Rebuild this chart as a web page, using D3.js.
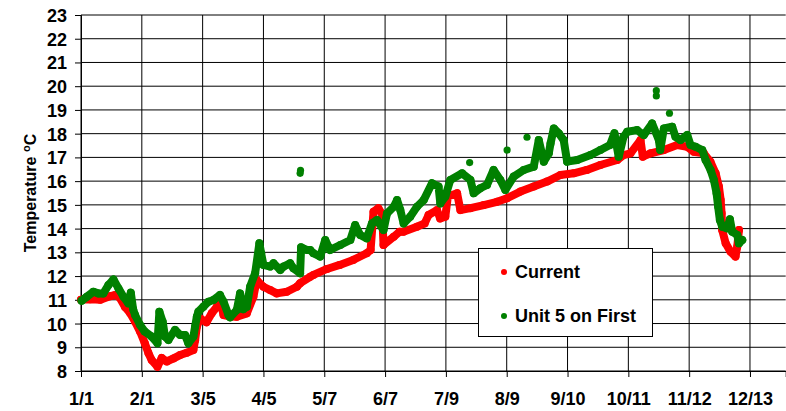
<!DOCTYPE html>
<html>
<head>
<meta charset="utf-8">
<script src="https://cdn.jsdelivr.net/npm/d3@7"></script>
<style>
html,body{margin:0;padding:0;background:#fff;}
svg{display:block;}
text{font-family:"Liberation Sans",Arial,sans-serif;font-weight:bold;fill:#000;}
</style>
</head>
<body>
<svg id="chart" width="786" height="411"></svg>
<script>
// ---- data (day of year, temperature °C) ----
const xTickLabels = ["1/1","2/1","3/5","4/5","5/7","6/7","7/9","8/9","9/10","10/11","11/12","12/13"];
const xTickStep = 31.5;
const yTicks = [8,9,10,11,12,13,14,15,16,17,18,19,20,21,22,23];
const seriesNames = ["Current","Unit 5 on First"];
const seriesColors = ["#ff0000","#008000"];

const currentDays  = [0,4.7,10,15,17.6,20,22.8,25.4,28,30.6,33,34.9,36.6,39.6,41.8,44.4,47.9,51.3,54.8,58.2,59.1,60,61.7,65,67.7,70.3,72,73.8,77,80.7,85.9,89.3,91,94.5,98,101.4,106.6,111.8,113.5,118.7,120.4,127.4,134,141,148,150,151.5,154,156,156.7,162,165,167,174,178,180,184.4,186,188.7,190,194.8,196.5,201.7,208.6,215.5,220.7,227.6,234.5,241.4,248.3,255.2,262,269,277.7,281,284.6,289.8,291,295,301.9,308.8,314,317.4,322.6,326,328.7,330.4,331.3,331.8,332.1,333.9,336.4,339,339.9,340.8];
const currentTemps = [11.0,11.02,11.0,11.15,11.2,11.1,10.7,10.44,10.08,9.66,9.18,8.76,8.46,8.18,8.55,8.4,8.53,8.67,8.77,8.88,9.3,9.87,10.22,10.05,10.43,10.7,11.06,10.36,10.3,10.29,10.43,11.13,11.83,11.55,11.41,11.27,11.34,11.55,11.7,11.97,12.05,12.3,12.47,12.68,12.96,13.1,14.71,14.86,14.6,13.31,13.66,13.87,13.87,14.08,14.22,14.57,14.78,14.43,14.5,15.35,15.49,14.78,14.86,14.99,15.13,15.28,15.56,15.77,15.98,16.26,16.33,16.47,16.68,16.89,17.1,17.17,17.73,17.03,17.17,17.31,17.52,17.45,17.24,17.17,16.82,16.33,15.77,15.21,14.65,13.94,13.38,13.03,12.82,13.24,13.94];

const unitDays  = [0.3,3,6.4,9,11.6,14.2,16.8,19.4,22,24.5,25.8,27,28,30.6,33,36.6,39.6,40.6,42.3,43.5,45.3,48.7,51.3,53.9,55.6,58.2,59.1,60,60.8,63.4,66,68.6,72,73.8,76.4,77.2,80.7,82.4,84,85.9,87.6,90.2,92.4,93.3,94.5,98,99.7,103.2,104.9,108.3,110,113.5,114,117,118.7,120.4,123.9,126.5,129,134.3,139.5,142,144.6,148,150.7,153.3,156.7,158.5,162,163.7,165.4,167.1,170.5,174,177.5,181.8,185.2,186.1,188.7,191.3,197.4,201.7,203.4,206.8,210.3,213.7,217.2,219.8,224.1,229.3,234.5,237.1,239.7,242.3,243.2,244.9,247.5,250,251.8,257,263.9,269,274,276.3,278.5,281,282.9,288,291.5,295.8,299.3,300,301.9,306.2,307.9,310.5,314,315.7,318.3,321.8,323.5,326.1,327.8,329.2,330,330.9,332.1,334.7,336.1,337.3,339.9,340.8,342.5];
const unitTemps = [10.96,11.13,11.34,11.27,11.27,11.62,11.86,11.48,11.13,10.85,11.3,10.6,10.36,9.94,9.66,9.45,9.17,10.5,10.08,9.45,9.31,9.73,9.52,9.52,9.17,9.45,9.87,10.29,10.5,10.71,10.92,10.99,11.2,10.92,10.36,10.26,10.57,11.27,10.6,10.71,11.55,12.12,13.38,12.96,12.47,12.4,12.54,12.26,12.4,12.54,12.33,12.12,13.21,13.1,13.1,12.96,12.82,13.52,13.1,13.31,13.52,14.15,13.73,13.59,14.22,14.36,13.94,14.64,14.92,15.2,14.78,14.22,14.5,14.92,15.2,15.91,15.77,15.06,15.35,16.05,16.33,16.05,15.49,15.7,15.84,16.47,16.05,15.63,16.19,16.47,16.61,17.73,16.82,17.17,17.59,18.22,18.01,17.73,16.82,16.89,17.1,17.31,17.52,18.02,17.03,17.87,18.08,18.15,17.94,18.43,17.73,17.31,18.22,18.29,17.87,17.73,17.94,17.52,17.45,17.31,16.89,16.47,16.05,15.49,14.93,14.36,14.08,14.01,14.39,13.87,13.73,13.38,13.52];

const unitIsolatedDays  = [113.5,113.7,201.3,220.7,231,298,298,304.8];
const unitIsolatedTemps = [16.33,16.45,16.78,17.31,17.85,19.81,19.59,18.86];

// ---- layout ----
const svg = d3.select("#chart");
const plotLeft = 81, plotRight = 785.7, plotTop = 15, plotBottom = 371;
const x = d3.scaleLinear().domain([0,365]).range([plotLeft,plotRight]);
const y = d3.scaleLinear().domain([8,23]).range([plotBottom,plotTop]);
const xTickVals = d3.range(xTickLabels.length).map(i => i*xTickStep);

// gridlines
const grid = svg.append("g");
grid.selectAll("line.h").data(yTicks).join("line")
  .attr("x1", plotLeft).attr("x2", plotRight)
  .attr("y1", d => y(d)).attr("y2", d => y(d))
  .attr("stroke","#000").attr("stroke-width",1);
grid.selectAll("line.v").data(xTickVals).join("line")
  .attr("x1", d => x(d)).attr("x2", d => x(d))
  .attr("y1", plotTop).attr("y2", plotBottom)
  .attr("stroke","#000").attr("stroke-width",1);

// axes
const yAxis = d3.axisLeft(y).tickValues(yTicks).tickSize(6).tickPadding(8).tickFormat(d3.format("d"));
const gy = svg.append("g").attr("transform",`translate(${plotLeft},0)`).call(yAxis);
gy.select(".domain").attr("stroke","#000");
gy.selectAll("line").attr("stroke","#000");
gy.selectAll("text").style("font-size","18px").attr("dy","0.36em");

const xAxis = d3.axisBottom(x).tickValues(xTickVals).tickSize(6).tickPadding(0)
  .tickFormat((d,i) => xTickLabels[i]);
const gx = svg.append("g").attr("transform",`translate(0,${plotBottom})`).call(xAxis);
gx.select(".domain").attr("stroke","#000");
gx.selectAll("line").attr("stroke","#000");
gx.selectAll("text").style("font-size","18px").attr("y",34).attr("dy",0);

// y axis title
const title = svg.append("text")
  .attr("transform",`translate(36,${(plotTop+plotBottom)/2}) rotate(-90)`)
  .attr("text-anchor","middle")
  .style("font-size","16px");
title.append("tspan").text("Temperature ");
title.append("tspan").text("o").style("font-size","11px").attr("dy","-6");
title.append("tspan").text("C").attr("dy","6");

// series
function drawSeries(days, temps, color){
  const pts = days.map((d,i) => [d, temps[i]]);
  const line = d3.line().x(d => x(d[0])).y(d => y(d[1])).curve(d3.curveLinear);
  svg.append("path").datum(pts).attr("d", line)
    .attr("fill","none").attr("stroke",color).attr("stroke-width",8)
    .attr("stroke-linejoin","round").attr("stroke-linecap","round");
  svg.append("g").selectAll("circle").data(pts).join("circle")
    .attr("cx", d => x(d[0])).attr("cy", d => y(d[1])).attr("r",4).attr("fill",color);
}
drawSeries(currentDays, currentTemps, seriesColors[0]);
drawSeries(unitDays, unitTemps, seriesColors[1]);
svg.append("g").selectAll("circle").data(unitIsolatedDays.map((d,i)=>[d,unitIsolatedTemps[i]])).join("circle")
  .attr("cx", d => x(d[0])).attr("cy", d => y(d[1])).attr("r",3.6).attr("fill",seriesColors[1]);

// legend
const lg = svg.append("g");
lg.append("rect").attr("x",478.5).attr("y",248.5).attr("width",174).attr("height",88)
  .attr("fill","#fff").attr("stroke","#000").attr("stroke-width",1);
const entries = lg.selectAll("g.e").data(seriesNames).join("g")
  .attr("transform",(d,i)=>`translate(504,${272 + i*44})`);
entries.append("circle").attr("r",3).attr("fill",(d,i)=>seriesColors[i]);
entries.append("text").attr("x",11).attr("dy","0.36em").style("font-size","18px").text(d=>d);
</script>
</body>
</html>
